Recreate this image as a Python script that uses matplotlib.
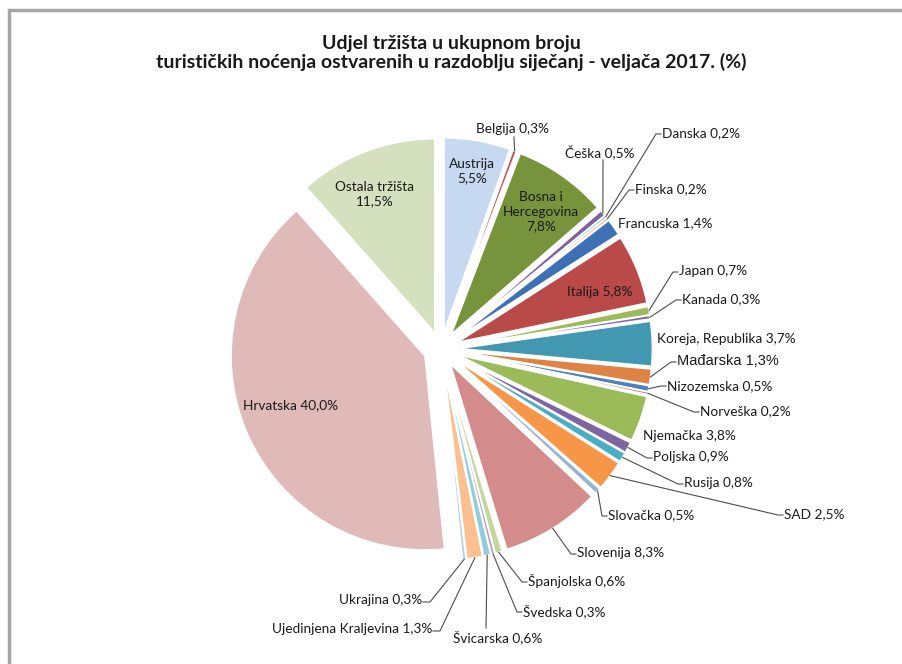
import numpy as np
import matplotlib.pyplot as plt

# udio trzista u nocenjima, sijecanj - veljaca 2017. (%)
markets = ['Austrija', 'Belgija', 'Bosna i Hercegovina', 'Češka', 'Danska', 'Finska',
           'Francuska', 'Italija', 'Japan', 'Kanada', 'Koreja, Republika', 'Mađarska',
           'Nizozemska', 'Norveška', 'Njemačka', 'Poljska', 'Rusija', 'SAD', 'Slovačka',
           'Slovenija', 'Španjolska', 'Švedska', 'Švicarska', 'Ujedinjena Kraljevina',
           'Ukrajina', 'Hrvatska', 'Ostala tržišta']
shares = [5.5, 0.3, 7.8, 0.5, 0.2, 0.2, 1.4, 5.8, 0.7, 0.3, 3.7, 1.3, 0.5, 0.2, 3.8,
          0.9, 0.8, 2.5, 0.5, 8.3, 0.6, 0.3, 0.6, 1.3, 0.3, 40.0, 11.5]
colors = ['#C6D9F0', '#C0504D', '#77933C', '#7F60A0', '#4BACC6', '#F79646', '#3D70B4',
          '#B94A48', '#9BBB59', '#8064A2', '#4198B0', '#DE8344', '#4F81BD', '#C0504D',
          '#9BBB59', '#8064A2', '#4BACC6', '#F79646', '#95B3D7', '#D38C8B', '#C3D69B',
          '#B3A2C7', '#93CDDD', '#FAC090', '#B9CDE5', '#E0B9B9', '#D4E0BE']
title_lines = ['Udjel tržišta u ukupnom broju',
               'turističkih noćenja ostvarenih u razdoblju siječanj - veljača 2017. (%)']

W, H = 903, 664
cx, cy, r = 441, 349, 194   # pie centre / radius in pixels (y from top)
expl = 0.09                 # explode as a fraction of the radius


def px(x, y):
    return x, H - y


def pct(v):
    return f'{v:.1f}'.replace('.', ',') + '%'


# label layout in pixels: text x, text y, alignment, end of leader line (or None)
inside = {
    'Austrija': (472, 171, 'Austrija\n' + pct(5.5)),
    'Bosna i Hercegovina': (541, 212, 'Bosna i\nHercegovina\n' + pct(7.8)),
    'Italija': (600, 292, 'Italija ' + pct(5.8)),
    'Hrvatska': (291, 405, 'Hrvatska ' + pct(40.0)),
    'Ostala tržišta': (375, 194, 'Ostala tržišta\n' + pct(11.5)),
}
outside = {
    'Belgija': (513, 129, 'center', (514, 137)),
    'Češka': (600, 153, 'center', (603, 160)),
    'Danska': (662, 133, 'left', (656, 134)),
    'Finska': (635, 189, 'left', (629, 190)),
    'Francuska': (618, 223, 'left', None),
    'Japan': (679, 271, 'left', (673, 272)),
    'Kanada': (682, 299, 'left', (676, 300)),
    'Koreja, Republika': (657, 339, 'left', None),
    'Mađarska': (677, 361, 'left', (671, 362)),
    'Nizozemska': (667, 386, 'left', (661, 386)),
    'Norveška': (700, 411, 'left', (694, 412)),
    'Njemačka': (643, 436, 'left', None),
    'Poljska': (653, 457, 'left', (647, 458)),
    'Rusija': (684, 483, 'left', (678, 484)),
    'SAD': (784, 514, 'left', (778, 515)),
    'Slovačka': (608, 515, 'left', (602, 516)),
    'Slovenija': (577, 553, 'left', (571, 554)),
    'Španjolska': (528, 581, 'left', (522, 582)),
    'Švedska': (523, 611, 'left', (517, 612)),
    'Švicarska': (498, 637, 'center', (486, 628)),
    'Ujedinjena Kraljevina': (432, 629, 'right', (440, 631)),
    'Ukrajina': (422, 600, 'right', (430, 602)),
}

fig = plt.figure(figsize=(W / 100, H / 100), dpi=100)
ax = fig.add_axes([0, 0, 1, 1])

# matplotlib's explode is an absolute offset, so scale it by the radius
wedges, _ = ax.pie(shares, colors=colors, startangle=90, counterclock=False,
                   explode=[expl * r] * len(shares), radius=r, center=px(cx, cy),
                   wedgeprops=dict(edgecolor='white', linewidth=1.2))
ax.set_xlim(0, W)
ax.set_ylim(0, H)
ax.set_aspect('equal')
ax.axis('off')

# chart frame (only top and left edges are visible)
ax.plot([9, 9, W], [0, H - 10, H - 10], color='#A6A6A6', linewidth=2.5,
        solid_joinstyle='miter', solid_capstyle='butt')

for line, ty in zip(title_lines, [43, 62]):
    ax.text(*px(W / 2, ty), line, ha='center', va='center', fontsize=14,
            fontweight='bold', family='Lato', color='#1a1a1a')

tc = '#1a1a1a'
fs = 9.8
for name, (tx, ty, txt) in inside.items():
    ax.text(*px(tx, ty), txt, ha='center', va='center', fontsize=fs, family='Lato',
            color=tc, linespacing=1.25)

total = sum(shares)
cum = np.cumsum([0] + shares[:-1])
for i, name in enumerate(markets):
    if name not in outside:
        continue
    tx, ty, ha, end = outside[name]
    if name == 'Mađarska':
        ax.text(*px(tx, ty), f'{name} {pct(shares[i])}', ha=ha, va='center',
                fontsize=10.5, family='Liberation Sans', color=tc)
    else:
        ax.text(*px(tx, ty), f'{name} {pct(shares[i])}', ha=ha, va='center',
                fontsize=fs, family='Lato', color=tc)
    if end is None:
        continue
    mid = np.deg2rad((cum[i] + shares[i] / 2) / total * 360)
    R = r * (1 + expl)
    ax0, ay0 = cx + R * np.sin(mid), cy - R * np.cos(mid)
    xs, ys = [ax0, end[0]], [ay0, end[1]]
    if ha == 'left':
        xs.append(tx - 1)
        ys.append(end[1])
    elif ha == 'right':
        xs.append(tx + 1)
        ys.append(end[1])
    ax.plot(xs, [H - y for y in ys], color='#4d4d4d', linewidth=0.8)

fig.savefig('out.png', dpi=100, facecolor='white')
